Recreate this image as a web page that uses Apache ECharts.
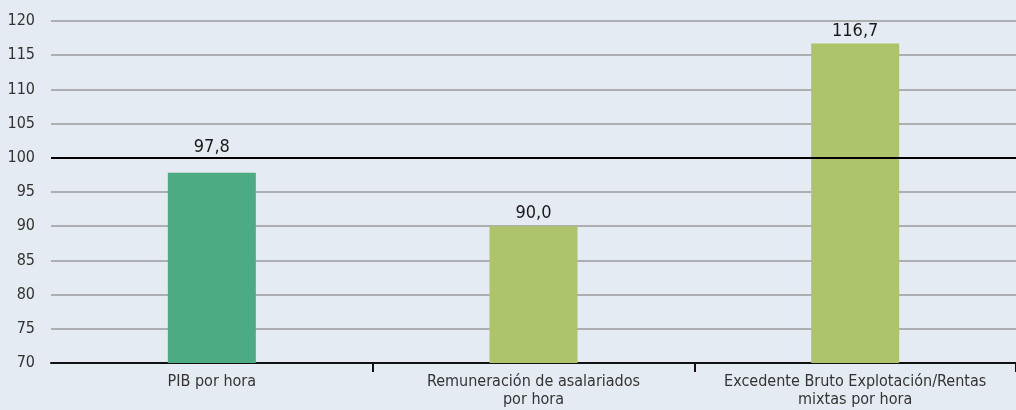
<!DOCTYPE html>
<html>
<head>
<meta charset="utf-8">
<script src="https://cdn.jsdelivr.net/npm/echarts@6/dist/echarts.min.js"></script>
<style>
  html, body { margin: 0; padding: 0; background: #e4ebf2; overflow: hidden; }
  #chart { width: 1016px; height: 410px; }
</style>
</head>
<body>
<div id="chart"></div>
<script>
const categories = ['PIB por hora', 'Remuneración de asalariados\npor hora', 'Excedente Bruto Explotación/Rentas\nmixtas por hora'];
const values = [97.8, 90.0, 116.7];
const barColors = ['#4dab83', '#adc46b', '#adc46b'];
const labelGaps = [17, 4, 3];
const baseLine = 100;

const font = '"DejaVu Sans Condensed", "Liberation Sans Narrow", sans-serif';

let myChart = echarts.init(document.getElementById('chart'));
let option = {
    backgroundColor: '#e4ebf2',
    animation: false,
    grid: {
        left: 51,
        right: -2,   // push the closing tick just past the edge
        top: 21,
        bottom: 47
    },
    xAxis: {
        type: 'category',
        data: categories,
        axisLine: { lineStyle: { color: '#111', width: 2 } },
        axisTick: {
            show: true,
            length: 9,
            // only the ticks between categories
            interval: function (i) { return i === 1 || i === 2; },
            lineStyle: { color: '#111', width: 2 }
        },
        axisLabel: {
            interval: 0,
            color: '#333',
            fontFamily: font,
            fontSize: 16,
            lineHeight: 18,
            margin: 10
        }
    },
    yAxis: {
        type: 'value',
        min: 70,
        max: 120,
        interval: 5,
        axisLine: { show: false },
        axisTick: { show: false },
        axisLabel: {
            color: '#333',
            fontFamily: font,
            fontSize: 16,
            margin: 16
        },
        splitLine: { lineStyle: { color: '#9a9a9a', width: 1.5 } }
    },
    series: [{
        type: 'bar',
        barWidth: 88,
        data: values.map((v, i) => ({
            value: v,
            itemStyle: { color: barColors[i] },
            label: { distance: labelGaps[i] }
        })),
        label: {
            show: true,
            position: 'top',
            color: '#1a1a1a',
            fontFamily: font,
            fontSize: 18,
            formatter: p => p.value.toFixed(1).replace('.', ',')
        },
        markLine: {
            symbol: 'none',
            silent: true,
            label: { show: false },
            lineStyle: { color: '#000', width: 2, type: 'solid' },
            data: [{ yAxis: baseLine }]
        }
    }]
};
myChart.setOption(option);
</script>
</body>
</html>
